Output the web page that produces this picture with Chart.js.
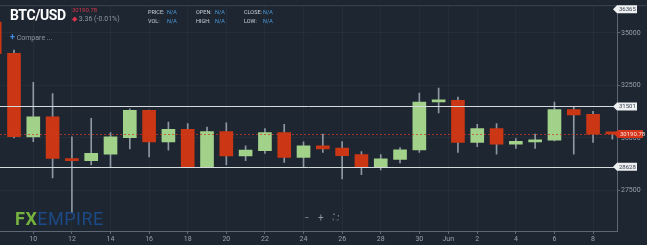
<!DOCTYPE html>
<html>
<head>
<meta charset="utf-8">
<script src="https://cdn.jsdelivr.net/npm/chart.js@4.4.0/dist/chart.umd.min.js"></script>
<style>
  body { margin: 0; background: #1d2631; overflow: hidden; font-family: Roboto, "Noto Sans", sans-serif; }
  #wrap { position: relative; width: 647px; height: 245px; }
  canvas { position: absolute; left: 0; top: 0; }
  .t { position: absolute; white-space: nowrap; line-height: 1; }
  .lbl { color: #c9d0d7; font-size: 5.5px; }
  .na { color: #4d98d6; }
</style>
</head>
<body>
<div id="wrap">
  <canvas id="myChart" width="647" height="245"></canvas>

  <div class="t" style="left:10px;top:8px;font-size:14px;font-weight:700;color:#fff;letter-spacing:-0.4px">BTC/USD</div>
  <div class="t" style="left:72px;top:7px;font-size:6px;color:#d8344a">30190.78</div>
  <div class="t" style="left:72px;top:16px;font-size:7px;color:#8d97a2"><span style="color:#d8344a">&#9670;</span> 3.36 (-0.01%)</div>

  <div class="t lbl" style="left:148px;top:10px">PRICE: <span class="na" style="position:absolute;left:19px">N/A</span></div>
  <div class="t lbl" style="left:148px;top:19px">VOL: <span class="na" style="position:absolute;left:19px">N/A</span></div>
  <div class="t lbl" style="left:196px;top:10px">OPEN: <span class="na" style="position:absolute;left:19px">N/A</span></div>
  <div class="t lbl" style="left:196px;top:19px">HIGH: <span class="na" style="position:absolute;left:19px">N/A</span></div>
  <div class="t lbl" style="left:244px;top:10px">CLOSE: <span class="na" style="position:absolute;left:19px">N/A</span></div>
  <div class="t lbl" style="left:244px;top:19px">LOW: <span class="na" style="position:absolute;left:19px">N/A</span></div>

  <div class="t" style="left:10px;top:33px;font-size:7px;color:#8d97a2"><span style="color:#3d8ee0;font-weight:700;font-size:9px">+</span> Compare ...</div>

  <div class="t" style="left:15px;top:210px;font-size:18px;letter-spacing:0.5px"><span style="color:#74b13f;font-weight:700">FX</span><span style="color:#1c4a86">EMPIRE</span></div>

  <div class="t" style="left:304px;top:214px;font-size:9px;color:#8d97a2">&minus;</div>
  <div class="t" style="left:318px;top:213px;font-size:10px;color:#8d97a2">+</div>
  <div class="t" style="left:333px;top:214px;font-size:8px;color:#8d97a2">&#x26F6;</div>
</div>

<script>
// day index: 8..31 = May 8..31, 32..40 = Jun 1..9
const days = [8, 9, 10, 11, 12, 13, 14, 15, 16, 17, 18, 19, 20, 21, 22, 23, 24,
  25, 26, 27, 28, 29, 30, 31, 32, 33, 34, 35, 36, 37, 38, 39, 40];
const opens = [35520, 34024, 30050, 31000, 29020, 28910, 29230, 30010, 31310, 29810, 30410,
  28630, 30300, 29140, 29390, 30250, 29070, 29620, 29510, 29200, 28600, 28980, 29430,
  31720, 31790, 29780, 30440, 29700, 29810, 29890, 31350, 31120, 30194];
const highs = [35650, 34180, 32650, 32110, 30050, 30930, 30250, 31380, 31330, 30750, 30680,
  30520, 30720, 29620, 30440, 30650, 29810, 30180, 29830, 29350, 29200, 29540, 32140,
  32370, 31950, 30650, 30680, 29970, 30180, 31710, 31510, 31270, 30250];
const lows = [33950, 30000, 29820, 28100, 26450, 28710, 28630, 29470, 29100, 29420, 28580,
  28600, 28710, 28910, 29260, 28830, 28630, 29310, 28050, 28250, 28480, 28810, 29310,
  31190, 29310, 29580, 29230, 29500, 29500, 29860, 29230, 29780, 29940];
const closes = [34010, 30060, 31000, 29020, 28910, 29260, 30050, 31310, 29810, 30410, 28630,
  30300, 29140, 29420, 30250, 29070, 29620, 29470, 29150, 28600, 29000, 29430, 31710,
  31770, 29780, 30440, 29700, 29840, 29910, 31350, 31090, 30180, 30190.78];

const xTicks = [10, 12, 14, 16, 18, 20, 22, 24, 26, 28, 30, 31.5, 33, 35, 37, 39];
const xTickLabels = ["10", "12", "14", "16", "18", "20", "22", "24", "26", "28", "30", "Jun", "2", "4", "6", "8"];
const yTicks = [27500, 30000, 32500, 35000];

const levelPrices = [31501, 28628];
const lastPrice = 30190.78;
const topTagValue = 36365;

const cxt = document.querySelector("#myChart");

const bodyColors = opens.map((o, i) => (closes[i] >= o ? "#a2d18a" : "#cb3614"));

function drawTag(ctx, x, y, text, fill, color, w) {
  ctx.save();
  ctx.fillStyle = fill;
  ctx.beginPath();
  ctx.moveTo(x, y);
  ctx.lineTo(x + 4, y - 4);
  ctx.lineTo(x + w, y - 4);
  ctx.lineTo(x + w, y + 4);
  ctx.lineTo(x + 4, y + 4);
  ctx.closePath();
  ctx.fill();
  ctx.fillStyle = color;
  ctx.font = "6px Roboto, sans-serif";
  ctx.textBaseline = "middle";
  ctx.textAlign = "left";
  ctx.fillText(text, x + 6, y + 0.5);
  ctx.restore();
}

const levelsPlugin = {
  id: "levels",
  afterDatasetsDraw(chart) {
    const { ctx, chartArea, scales } = chart;
    const y = scales.y;

    // top frame line
    ctx.save();
    ctx.strokeStyle = "#3a4551";
    ctx.lineWidth = 1;
    ctx.beginPath();
    ctx.moveTo(0, chartArea.top + 0.5);
    ctx.lineTo(chart.width, chartArea.top + 0.5);
    ctx.stroke();

    // last price dotted line
    const yp = Math.round(y.getPixelForValue(lastPrice)) + 0.5;
    ctx.strokeStyle = "rgba(205,60,35,0.75)";
    ctx.setLineDash([2, 2]);
    ctx.beginPath();
    ctx.moveTo(chartArea.left, yp);
    ctx.lineTo(chartArea.right, yp);
    ctx.stroke();
    ctx.setLineDash([]);

    // support / resistance levels
    ctx.strokeStyle = "#d5dade";
    levelPrices.forEach((p) => {
      const py = Math.round(y.getPixelForValue(p)) + 0.5;
      ctx.beginPath();
      ctx.moveTo(chartArea.left, py);
      ctx.lineTo(chartArea.right, py);
      ctx.stroke();
    });
    ctx.restore();
  },
  afterDraw(chart) {
    const { ctx, chartArea, scales } = chart;
    const y = scales.y;
    levelPrices.forEach((p) => {
      drawTag(ctx, chartArea.right - 4, y.getPixelForValue(p), String(p), "#eef0f2", "#3b4450", 24);
    });
    drawTag(ctx, chartArea.right - 3, y.getPixelForValue(lastPrice), lastPrice.toFixed(2), "#d3341a", "#ffe3dc", 29);
    drawTag(ctx, chartArea.right - 4, chartArea.top + 4, String(topTagValue), "#eef0f2", "#3b4450", 24);
  },
};

const config = {
  type: "bar",
  data: {
    datasets: [
      {
        label: "wick",
        data: days.map((d, i) => ({ x: d, y: [lows[i], highs[i]] })),
        backgroundColor: "#8e98a3",
        barThickness: 1,
        grouped: false,
        order: 2,
      },
      {
        label: "body",
        data: days.map((d, i) => ({ x: d, y: [opens[i], closes[i]] })),
        backgroundColor: bodyColors,
        barThickness: 13,
        minBarLength: 2,
        grouped: false,
        order: 1,
      },
    ],
  },
  options: {
    responsive: false,
    animation: false,
    layout: { padding: { left: 0, right: 0, top: 3, bottom: 0 } },
    plugins: { legend: { display: false }, tooltip: { enabled: false } },
    scales: {
      x: {
        type: "linear",
        offset: false,
        min: 8.275,
        max: 40.24,
        afterBuildTicks: (s) => { s.ticks = xTicks.map((v) => ({ value: v })); },
        afterFit: (s) => { s.height = 14; },
        ticks: {
          autoSkip: false,
          maxRotation: 0,
          padding: 1,
          color: "#97a1ab",
          font: { size: 7, family: "Roboto" },
          callback: (v, i) => xTickLabels[i],
        },
        grid: { offset: false, color: "rgba(255,255,255,0.035)", tickColor: "#5d6874", tickLength: 3 },
        border: { color: "#5d6874" },
      },
      y: {
        position: "right",
        min: 25566,
        max: 36321,
        afterBuildTicks: (s) => { s.ticks = yTicks.map((v) => ({ value: v })); },
        afterFit: (s) => { s.width = 30; },
        ticks: {
          padding: 1,
          color: "#97a1ab",
          font: { size: 7, family: "Roboto" },
          callback: (v) => String(v),
        },
        grid: { color: "rgba(255,255,255,0.035)", tickColor: "#5d6874", tickLength: 3 },
        border: { color: "#5d6874" },
      },
    },
  },
  plugins: [levelsPlugin],
};

new Chart(cxt, config);
</script>
</body>
</html>
